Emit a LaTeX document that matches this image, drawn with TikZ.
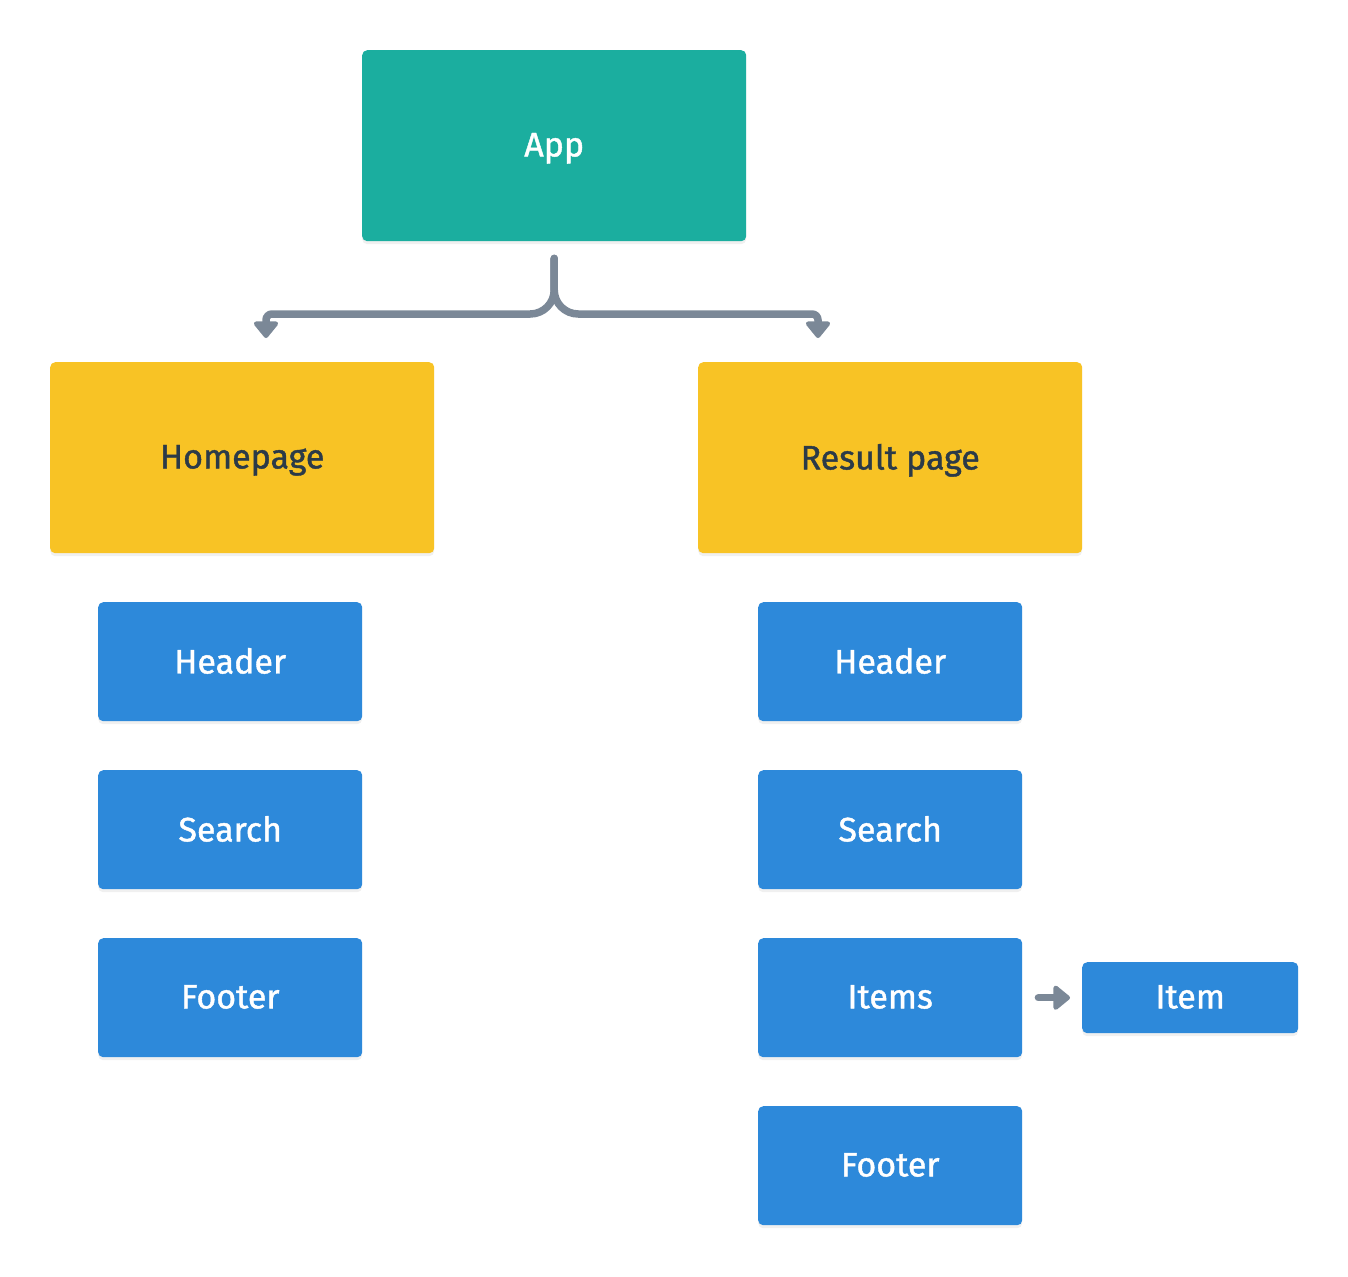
\documentclass[tikz,border=0pt]{standalone}
\usepackage{fontspec}
\setmainfont{Fira Sans}[RawFeature={embolden=1.2}]
\usetikzlibrary{arrows.meta,shadows}
\definecolor{teal}{HTML}{1BAE9F}
\definecolor{yel}{HTML}{F8C325}
\definecolor{blu}{HTML}{2D89DA}
\definecolor{ink}{HTML}{2B3A48}
\definecolor{conn}{HTML}{7B8897}
\tikzset{
  box/.style={rectangle, rounded corners=5pt, inner sep=0pt, anchor=north west,
    font=\fontsize{34}{40}\selectfont, text depth=2pt,
    drop shadow={opacity=0.12, shadow xshift=0pt, shadow yshift=-3pt}},
  appbox/.style={box, fill=teal, text=white, minimum width=384pt, minimum height=191pt},
  pagebox/.style={box, fill=yel, text=ink, minimum width=384pt, minimum height=191pt},
  compbox/.style={box, fill=blu, text=white, minimum width=264pt, minimum height=119pt},
  smallbox/.style={box, fill=blu, text=white, minimum width=216pt, minimum height=71pt},
  linkline/.style={draw=conn, line width=7.5pt, line cap=round},
  link/.style={linkline, -{Triangle[width=28pt,length=18pt,line join=round]}},
}
\begin{document}
\begin{tikzpicture}[x=1pt,y=-1pt]
\useasboundingbox (0,0) rectangle (1348,1276);
\node[appbox] (app) at (362,50) {App};
\node[pagebox] (home) at (50,362) {Homepage};
\node[pagebox] (res) at (698,362) {Result page};
\node[compbox] (h1) at (98,602) {Header};
\node[compbox] (s1) at (98,770) {Search};
\node[compbox] (f1) at (98,938) {Footer};
\node[compbox] (h2) at (758,602) {Header};
\node[compbox] (s2) at (758,770) {Search};
\node[compbox] (i2) at (758,938) {Items};
\node[compbox] (f2) at (758,1106) {Footer};
\node[smallbox] (item) at (1082,962) {Item};
\coordinate (stem) at ([yshift=-17pt]app.south);
\coordinate (ltip) at ([xshift=216pt,yshift=24pt]home.north west);
\coordinate (rtip) at ([xshift=120pt,yshift=24pt]res.north west);
\draw[link] (stem) [rounded corners=24pt] -- (stem |- 0,314) [rounded corners=6pt] -- (ltip |- 0,314) [sharp corners] -- (ltip);
\draw[link] (stem) [rounded corners=24pt] -- (stem |- 0,314) [rounded corners=6pt] -- (rtip |- 0,314) [sharp corners] -- (rtip);
\draw[link] ([xshift=16pt]i2.east) -- ([xshift=-12pt]item.west);
\end{tikzpicture}
\end{document}
